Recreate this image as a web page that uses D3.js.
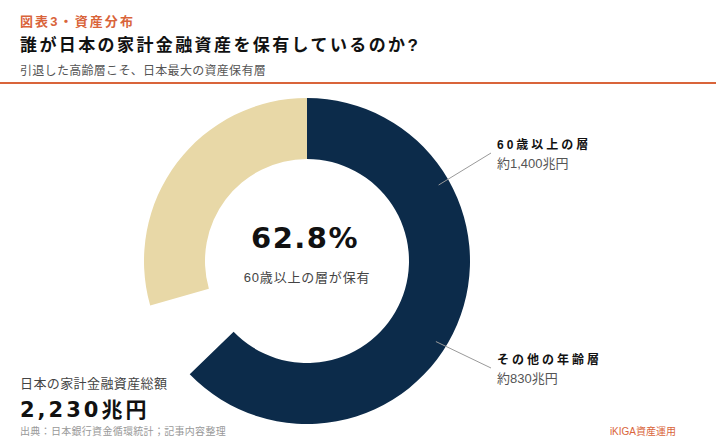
<!DOCTYPE html>
<html>
<head>
<meta charset="utf-8">
<script src="https://cdn.jsdelivr.net/npm/d3@7"></script>
<style>
  html, body { margin: 0; padding: 0; background: #fff; }
  svg { display: block; font-family: "Liberation Sans", "Noto Sans CJK JP", sans-serif; }
  .big { font-family: "DejaVu Sans", "Noto Sans CJK JP", sans-serif; }
</style>
</head>
<body>
<div id="chart"></div>
<script>
// data
const segmentLabels = ["60歳以上の層", "その他の年齢層"];
const segmentValues = [1400, 830];          // 兆円
const segmentValueLabels = ["約1,400兆円", "約830兆円"];
const totalLabel = "日本の家計金融資産総額";
const totalValue = "2,230兆円";
const centerLabel = "60歳以上の層が保有";

const width = 716, height = 440;
const cx = 307, cy = 261;
const outerR = 163, innerR = 102;
const otherReveal = 0.79;   // beige arc is only partly drawn in the source picture
const leaderAngles = [60, 122];
const labelY = [149, 364];

const orange = "#d9643a";
const color = d3.scaleOrdinal().domain(segmentLabels).range(["#0c2b4a", "#e8d8a7"]);

const svg = d3.select("#chart").append("svg")
  .attr("width", width)
  .attr("height", height);

// header
svg.append("text").attr("x", 20).attr("y", 26)
  .attr("fill", orange).attr("font-size", 13).attr("font-weight", 700)
  .attr("letter-spacing", 2.1)
  .text("図表3・資産分布");
svg.append("text").attr("x", 20).attr("y", 51)
  .attr("fill", "#111").attr("font-size", 17).attr("font-weight", 700)
  .attr("letter-spacing", 2.4)
  .text("誰が日本の家計金融資産を保有しているのか?");
svg.append("text").attr("x", 20).attr("y", 75)
  .attr("fill", "#555").attr("font-size", 12)
  .attr("letter-spacing", 0.3)
  .text("引退した高齢層こそ、日本最大の資産保有層");
svg.append("rect").attr("x", 0).attr("y", 82).attr("width", width).attr("height", 2)
  .attr("fill", orange);

// donut
const pie = d3.pie().sort(null).value(d => d)(segmentValues);
const arc = d3.arc().innerRadius(innerR).outerRadius(outerR);
const g = svg.append("g").attr("transform", `translate(${cx},${cy})`);

g.selectAll("path")
  .data(pie)
  .join("path")
  .attr("fill", (d, i) => color(segmentLabels[i]))
  .attr("d", (d, i) => {
    if (i === 1) {
      const span = d.endAngle - d.startAngle;
      return arc({ startAngle: d.endAngle - span * otherReveal, endAngle: d.endAngle });
    }
    return arc(d);
  });

// center text
const share = segmentValues[0] / d3.sum(segmentValues);
g.append("text").attr("class", "big").attr("x", -2).attr("y", -13)
  .attr("text-anchor", "middle").attr("fill", "#111")
  .attr("font-size", 29).attr("font-weight", 700)
  .attr("letter-spacing", 1.5)
  .text(d3.format(".1%")(share));
g.append("text").attr("x", 0).attr("y", 21)
  .attr("text-anchor", "middle").attr("fill", "#444")
  .attr("font-size", 13).attr("letter-spacing", 0.8)
  .text(centerLabel);

// leaders + labels
const labelX = 497;
segmentLabels.forEach((lab, i) => {
  const a = leaderAngles[i] * Math.PI / 180;
  const p = d3.pointRadial(a, 152);
  svg.append("line")
    .attr("x1", cx + p[0]).attr("y1", cy + p[1])
    .attr("x2", labelX - 6).attr("y2", labelY[i] + 4)
    .attr("stroke", "#9a9a9a").attr("stroke-width", 1);
  svg.append("text").attr("x", labelX).attr("y", labelY[i])
    .attr("fill", "#111").attr("font-size", 12).attr("font-weight", 700)
    .attr("letter-spacing", 3)
    .text(lab);
  svg.append("text").attr("x", labelX).attr("y", labelY[i] + 19)
    .attr("fill", "#555").attr("font-size", 13)
    .text(segmentValueLabels[i]);
});

// total
svg.append("text").attr("x", 20).attr("y", 388)
  .attr("fill", "#444").attr("font-size", 13).attr("letter-spacing", 0.4)
  .text(totalLabel);
svg.append("text").attr("class", "big").attr("x", 20).attr("y", 417)
  .attr("fill", "#111").attr("font-size", 21).attr("font-weight", 700)
  .attr("letter-spacing", 3)
  .text(totalValue);

// footer
svg.append("text").attr("x", 20).attr("y", 435)
  .attr("fill", "#999").attr("font-size", 10).attr("letter-spacing", 0.3)
  .text("出典：日本銀行資金循環統計；記事内容整理");
svg.append("text").attr("x", 676).attr("y", 435)
  .attr("text-anchor", "end")
  .attr("fill", orange).attr("font-size", 10)
  .text("iKIGA資産運用");
</script>
</body>
</html>
